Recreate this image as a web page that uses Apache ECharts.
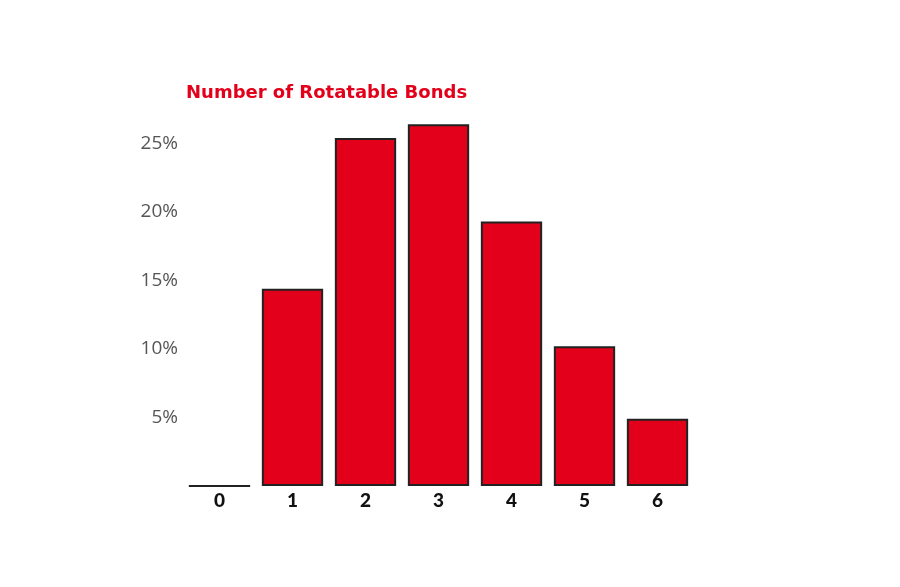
<!DOCTYPE html>
<html><head><meta charset="utf-8">
<script src="https://cdn.jsdelivr.net/npm/echarts@6/dist/echarts.min.js"></script>
<style>html,body{margin:0;padding:0;background:#fff}#c{width:900px;height:587px}</style>
</head><body><div id="c"></div>
<script>
const categories = ['0','1','2','3','4','5','6'];
const values = [0, 14.4, 25.4, 26.4, 19.3, 10.2, 4.9];
const yTicks = [5, 10, 15, 20, 25];
const titleText = 'Number of Rotatable Bonds';

const chart = echarts.init(document.getElementById('c'));
chart.setOption({
  animation: false,
  backgroundColor: '#fff',
  title: {
    text: titleText, left: 181, top: 79,
    textStyle: {color: '#e2001a', fontFamily: 'DejaVu Sans', fontWeight: 'bold', fontSize: 18}
  },
  grid: {left: 183, right: 206, top: 75, bottom: 101, containLabel: false},
  xAxis: {
    type: 'category', data: categories,
    axisLine: {show: false}, axisTick: {show: false},
    axisLabel: {color: '#111', fontFamily: 'Lato', fontWeight: 900, fontSize: 19, margin: 5}
  },
  yAxis: {
    type: 'value', min: 0, max: 30, interval: 5,
    splitLine: {show: false}, axisLine: {show: false}, axisTick: {show: false},
    axisLabel: {
      color: '#555', fontFamily: 'Open Sans', fontSize: 19, margin: 5,
      formatter: v => yTicks.includes(v) ? v + '%' : ''
    }
  },
  series: [{
    type: 'bar', data: values, barCategoryGap: '16%',
    itemStyle: {color: '#e2001a', borderColor: '#222', borderWidth: 2}
  }]
});
</script></body></html>
